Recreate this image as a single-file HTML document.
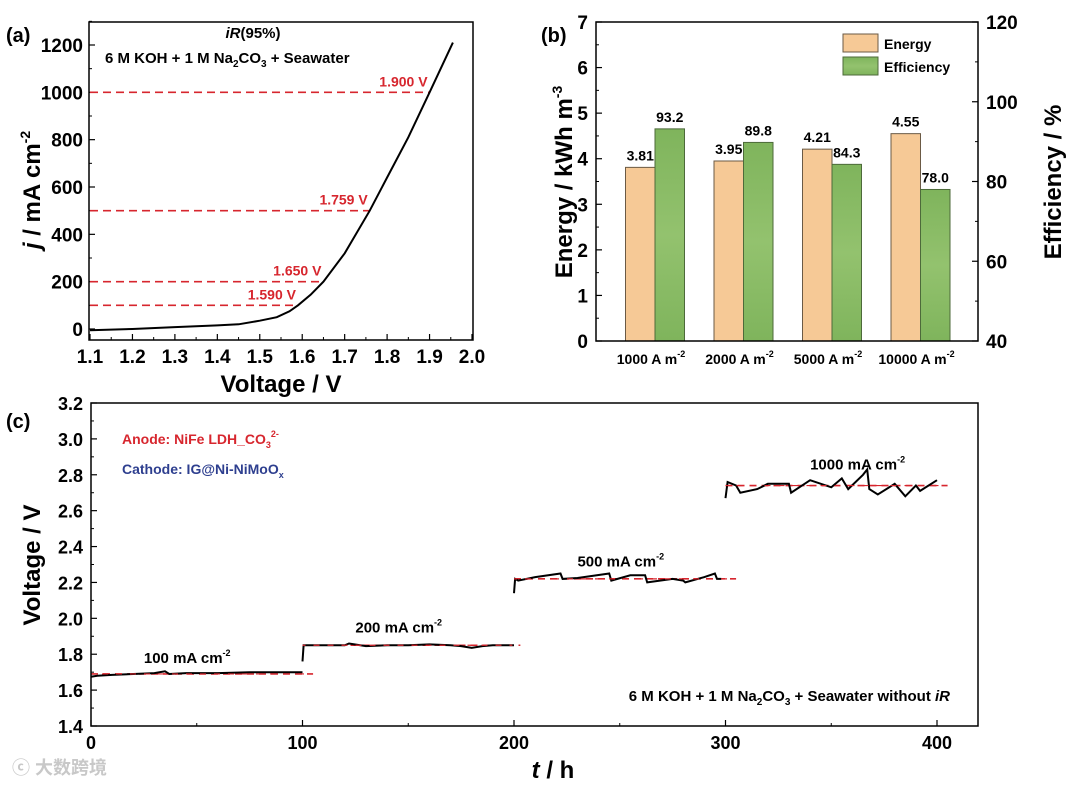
<!DOCTYPE html>
<html><head><meta charset="utf-8">
<style>
body{margin:0;background:#fff;width:1080px;height:786px;overflow:hidden;font-family:"Liberation Sans","Noto Sans CJK SC",sans-serif}
svg text{font-family:"Liberation Sans","Noto Sans CJK SC",sans-serif;font-weight:bold}
</style></head><body>
<svg id="fig" width="1080" height="786" viewBox="0 0 1080 786" xmlns="http://www.w3.org/2000/svg">
<defs>
<linearGradient id="grn" x1="0" y1="0" x2="0" y2="1">
<stop offset="0" stop-color="#7fb45c"/><stop offset="0.5" stop-color="#93c26e"/><stop offset="1" stop-color="#7fb45c"/>
</linearGradient>
</defs>
<g id="pa"></g>
<g id="pb"></g>
<g id="pc"></g>
</svg>
<script>
// ---------- Panel (a) data ----------
const aV = [1.10,1.20,1.30,1.40,1.45,1.50,1.54,1.57,1.59,1.62,1.65,1.70,1.759,1.80,1.85,1.90,1.955];
const aJ = [-5,0,8,15,20,35,50,75,100,145,200,320,500,640,810,1000,1210];
const aXTicks = [1.1,1.2,1.3,1.4,1.5,1.6,1.7,1.8,1.9,2.0];
const aYTicks = [0,200,400,600,800,1000,1200];
const aRefJ = [100,200,500,1000];
const aRefV = [1.590,1.650,1.759,1.900];
const aRefLabels = ["1.590 V","1.650 V","1.759 V","1.900 V"];

// ---------- Panel (b) data ----------
const bCats = ["1000","2000","5000","10000"];
const bEnergy = [3.81,3.95,4.21,4.55];
const bEff = [93.2,89.8,84.3,78.0];
const bYTicks = [0,1,2,3,4,5,6,7];
const bY2Ticks = [40,60,80,100,120];

// ---------- Panel (c) data ----------
const c1T = [0,3,10,20,30,35,37,45,60,75,90,100];
const c1V = [1.675,1.68,1.685,1.69,1.695,1.705,1.69,1.695,1.695,1.70,1.70,1.70];
const c2T = [100,100.5,110,120,122,130,140,150,160,170,175,180,185,190,200];
const c2V = [1.76,1.85,1.85,1.85,1.86,1.845,1.85,1.85,1.855,1.85,1.845,1.835,1.845,1.85,1.85];
const c3T = [200,200.5,202,210,222,223,230,245,246,255,262,263,275,280,281,290,295,296,298];
const c3V = [2.14,2.22,2.21,2.23,2.25,2.22,2.225,2.25,2.21,2.24,2.24,2.20,2.22,2.21,2.20,2.23,2.25,2.22,2.22];
const c4T = [300,301,305,307,315,320,330,331,340,350,355,358,365,367,368,372,380,385,390,392,400];
const c4V = [2.67,2.76,2.74,2.70,2.72,2.75,2.75,2.70,2.77,2.73,2.78,2.72,2.80,2.83,2.72,2.69,2.75,2.68,2.74,2.71,2.77];
const cLevels = [1.69,1.85,2.22,2.74];
const cLevelT0 = [0,100,200,300];
const cLevelT1 = [105,203,305,405];
const cLabels = ["100 mA cm","200 mA cm","500 mA cm","1000 mA cm"];
const cLabT = [25,125,230,340];
const cLabV = [1.75,1.92,2.29,2.83];
const cXTicks = [0,100,200,300,400];
const cYTicks = [1.4,1.6,1.8,2.0,2.2,2.4,2.6,2.8,3.0,3.2];

const NS="http://www.w3.org/2000/svg";
function mk(parent,tag,attrs,text){const e=document.createElementNS(NS,tag);for(const k in attrs)e.setAttribute(k,attrs[k]);if(text!==undefined)e.textContent=text;parent.appendChild(e);return e;}

// ===== Panel A =====
(function(){
const g=document.getElementById('pa');
const X0=90,X1=472,Y0=329,Y1=45;
const x=v=>X0+(v-1.1)/(0.9)*(X1-X0);
const y=j=>Y0-(j/1200)*(Y0-Y1);
const fr=mk(g,'rect',{x:89,y:22,width:384,height:318,fill:'none',stroke:'#000','stroke-width':1.5});

aXTicks.forEach((t,i)=>{
 mk(g,'line',{x1:x(t),x2:x(t),y1:340,y2:334,stroke:'#000','stroke-width':1.2});
 if(i<aXTicks.length-1) mk(g,'line',{x1:x(t+0.05),x2:x(t+0.05),y1:340,y2:337,stroke:'#000','stroke-width':1});
 const tx=mk(g,'text',{x:x(t),y:363,'font-size':19,'text-anchor':'middle'},t.toFixed(1));
 
});
aYTicks.forEach(t=>{
 mk(g,'line',{x1:89,x2:95,y1:y(t),y2:y(t),stroke:'#000','stroke-width':1.2});
 mk(g,'line',{x1:89,x2:92,y1:y(t+100),y2:y(t+100),stroke:'#000','stroke-width':1});
 const tx=mk(g,'text',{x:83,y:y(t)+7,'font-size':19,'text-anchor':'end'},t);
 
});
aRefJ.forEach((j,i)=>{
 const l=mk(g,'line',{x1:90,x2:x(aRefV[i]),y1:y(j),y2:y(j),stroke:'#d7262e','stroke-width':1.6,'stroke-dasharray':'8,5'});
 
 const t=mk(g,'text',{x:x(aRefV[i])-2,y:y(j)-6,'font-size':14,fill:'#d7262e','text-anchor':'end'},aRefLabels[i]);
 
});
const p=mk(g,'path',{d:aV.map((v,i)=>(i?'L':'M')+x(v).toFixed(1)+','+y(aJ[i]).toFixed(1)).join(''),fill:'none',stroke:'#000','stroke-width':2});

let t=mk(g,'text',{x:6,y:42,'font-size':20,'font-weight':'normal'},'(a)');
t=mk(g,'text',{x:253,y:38,'font-size':15,'text-anchor':'middle','font-weight':'normal'});t.innerHTML='<tspan font-style="italic">iR</tspan>(95%)';
t=mk(g,'text',{x:105,y:63,'font-size':15});t.innerHTML='6 M KOH + 1 M Na<tspan font-size="10" dy="4">2</tspan><tspan dy="-4">CO</tspan><tspan font-size="10" dy="4">3</tspan><tspan dy="-4"> + Seawater</tspan>';
t=mk(g,'text',{x:281,y:392,'font-size':24,'text-anchor':'middle'},'Voltage / V');
t=mk(g,'text',{x:0,y:0,'font-size':24,'text-anchor':'middle',transform:'translate(40,190) rotate(-90)'});t.innerHTML='<tspan font-style="italic">j</tspan> / mA cm<tspan font-size="14" dy="-10">-2</tspan>';
})();

// ===== Panel B =====
(function(){
const g=document.getElementById('pb');
const L=596,R=978,T=22,B=341;
const y=v=>B-v/7*(B-T);
const y2=v=>B-(v-40)/80*(B-T);
const cx=i=>655+i*88.5;
const bw=29.5;
bEnergy.forEach((v,i)=>{
 const r=mk(g,'rect',{x:cx(i)-bw,y:y(v),width:bw,height:B-y(v),fill:'#f6c996',stroke:'#6b5a45','stroke-width':1});
 
 const t=mk(g,'text',{x:cx(i)-bw/2,y:y(v)-7,'font-size':14,'text-anchor':'middle'},v.toFixed(2));
 
});
bEff.forEach((v,i)=>{
 const r=mk(g,'rect',{x:cx(i),y:y2(v),width:bw,height:B-y2(v),fill:'url(#grn)',stroke:'#4d6a3a','stroke-width':1});
 
 const t=mk(g,'text',{x:cx(i)+bw/2,y:y2(v)-7,'font-size':14,'text-anchor':'middle'},v.toFixed(1));
 
});
const fr=mk(g,'rect',{x:L,y:T,width:R-L,height:B-T,fill:'none',stroke:'#000','stroke-width':1.5});

bYTicks.forEach(t=>{
 mk(g,'line',{x1:L,x2:L+6,y1:y(t),y2:y(t),stroke:'#000','stroke-width':1.2});
 if(t<7) mk(g,'line',{x1:L,x2:L+3,y1:y(t+0.5),y2:y(t+0.5),stroke:'#000','stroke-width':1});
 const tx=mk(g,'text',{x:L-8,y:y(t)+7,'font-size':19,'text-anchor':'end'},t);
 
});
bY2Ticks.forEach(t=>{
 mk(g,'line',{x1:R,x2:R-6,y1:y2(t),y2:y2(t),stroke:'#000','stroke-width':1.2});
 if(t<120) mk(g,'line',{x1:R,x2:R-3,y1:y2(t+10),y2:y2(t+10),stroke:'#000','stroke-width':1});
 const tx=mk(g,'text',{x:R+8,y:y2(t)+7,'font-size':19},t);
 
});
bCats.forEach((c,i)=>{
 const tx=mk(g,'text',{x:cx(i)-4,y:364,'font-size':14,'text-anchor':'middle'});
 tx.innerHTML=c+' A m<tspan font-size="9" dy="-7">-2</tspan>';
 
});
let r=mk(g,'rect',{x:843,y:34,width:35,height:18,fill:'#f6c996',stroke:'#6b5a45'});
r=mk(g,'rect',{x:843,y:57,width:35,height:18,fill:'url(#grn)',stroke:'#4d6a3a'});
let t=mk(g,'text',{x:884,y:49,'font-size':14},'Energy');
t=mk(g,'text',{x:884,y:72,'font-size':14},'Efficiency');
t=mk(g,'text',{x:541,y:42,'font-size':20,'font-weight':'normal'},'(b)');
t=mk(g,'text',{x:0,y:0,'font-size':24,'text-anchor':'middle',transform:'translate(572,182) rotate(-90)'});t.innerHTML='Energy / kWh m<tspan font-size="14" dy="-10">-3</tspan>';
t=mk(g,'text',{x:0,y:0,'font-size':24,'text-anchor':'middle',transform:'translate(1061,182) rotate(-90)'},'Efficiency / %');
})();

// ===== Panel C =====
(function(){
const g=document.getElementById('pc');
const L=91,R=978,T=403,B=726;
const x=h=>L+h/400*(937-L);
const y=v=>B-(v-1.4)/1.8*(B-T);
cLevels.forEach((v,i)=>{
 const l=mk(g,'line',{x1:x(cLevelT0[i]),x2:x(cLevelT1[i]),y1:y(v),y2:y(v),stroke:'#d7262e','stroke-width':1.6,'stroke-dasharray':'7,5'});
 
});
[[c1T,c1V],[c2T,c2V],[c3T,c3V],[c4T,c4V]].forEach((s,k)=>{
 const p=mk(g,'path',{d:s[0].map((h,i)=>(i?'L':'M')+x(h).toFixed(1)+','+y(s[1][i]).toFixed(1)).join(''),fill:'none',stroke:'#000','stroke-width':2});
 
});
cLevels.forEach((v,i)=>{
 mk(g,'line',{x1:x(cLevelT0[i]),x2:x(cLevelT1[i])-8,y1:y(v),y2:y(v),stroke:'#d7262e','stroke-width':1.2,'stroke-dasharray':'6,8','stroke-dashoffset':3});
});
const fr=mk(g,'rect',{x:L,y:T,width:R-L,height:B-T,fill:'none',stroke:'#000','stroke-width':1.5});

cXTicks.forEach((t,i)=>{
 mk(g,'line',{x1:x(t),x2:x(t),y1:B,y2:B-6,stroke:'#000','stroke-width':1.2});
 if(i<cXTicks.length-1) mk(g,'line',{x1:x(t+50),x2:x(t+50),y1:B,y2:B-3,stroke:'#000','stroke-width':1});
 const tx=mk(g,'text',{x:x(t),y:749,'font-size':18,'text-anchor':'middle'},t);
 
});
cYTicks.forEach(t=>{
 mk(g,'line',{x1:L,x2:L+6,y1:y(t),y2:y(t),stroke:'#000','stroke-width':1.2});
 if(t<3.1) mk(g,'line',{x1:L,x2:L+3,y1:y(t+0.1),y2:y(t+0.1),stroke:'#000','stroke-width':1});
 const tx=mk(g,'text',{x:L-8,y:y(t)+7,'font-size':18,'text-anchor':'end'},t.toFixed(1));
 
});
cLabels.forEach((s,i)=>{
 const tx=mk(g,'text',{x:x(cLabT[i]),y:y(cLabV[i]),'font-size':15});
 tx.innerHTML=s+'<tspan font-size="9" dy="-7">-2</tspan>';
 
});
let t=mk(g,'text',{x:6,y:428,'font-size':20,'font-weight':'normal'},'(c)');
t=mk(g,'text',{x:122,y:444,'font-size':14,fill:'#d7262e'});t.innerHTML='Anode: NiFe LDH_CO<tspan font-size="9" dy="4">3</tspan><tspan font-size="9" dy="-11">2-</tspan>';
t=mk(g,'text',{x:122,y:474,'font-size':14,fill:'#2e3f8f'});t.innerHTML='Cathode: IG@Ni-NiMoO<tspan font-size="9" dy="4">x</tspan>';
t=mk(g,'text',{x:950,y:701,'font-size':15,'text-anchor':'end'});t.innerHTML='6 M KOH + 1 M Na<tspan font-size="10" dy="4">2</tspan><tspan dy="-4">CO</tspan><tspan font-size="10" dy="4">3</tspan><tspan dy="-4"> + Seawater without </tspan><tspan font-style="italic">iR</tspan>';
t=mk(g,'text',{x:553,y:778,'font-size':24,'text-anchor':'middle'});t.innerHTML='<tspan font-style="italic">t</tspan> / h';
t=mk(g,'text',{x:0,y:0,'font-size':24,'text-anchor':'middle',transform:'translate(40,565) rotate(-90)'},'Voltage / V');
t=mk(g,'text',{x:12,y:774,'font-size':18,fill:'#c8c8c8','font-weight':'normal'},'ⓒ 大数跨境');
})();
</script>
</body></html>
